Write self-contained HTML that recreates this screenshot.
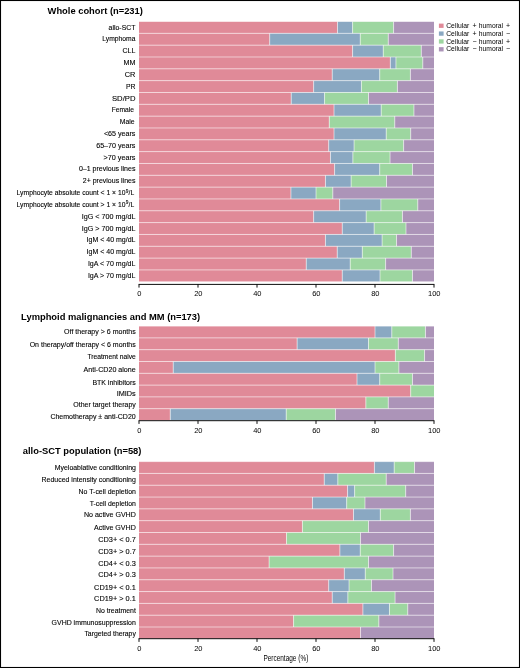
<!DOCTYPE html>
<html><head><meta charset="utf-8"><style>
html,body{margin:0;padding:0;background:#fff;width:520px;height:668px;overflow:hidden}
svg{display:block;will-change:transform}
text{font-family:"Liberation Sans",sans-serif;fill:#000}
.lb{font-size:6.8px;text-anchor:end;stroke:#000;stroke-width:0.1}
.tk{font-size:7.5px;text-anchor:middle}
.tt{font-size:9.35px;font-weight:bold;fill:#000}
.lg{font-size:7px}
.sep{stroke:#fff;stroke-width:0.55}
.ax{stroke:#000;stroke-width:0.95}
</style></head><body>
<svg width="520" height="668" viewBox="0 0 520 668">
<rect x="0" y="0" width="520" height="668" fill="#fff"/>
<text x="47.6" y="14.4" class="tt">Whole cohort (n=231)</text>
<text x="21.1" y="319.9" class="tt">Lymphoid malignancies and MM (n=173)</text>
<text x="22.8" y="454.2" class="tt">allo-SCT population (n=58)</text>
<rect x="139" y="21.5" width="198.53" height="11.83" fill="#e08a98"/>
<rect x="337.53" y="21.5" width="15.05" height="11.83" fill="#8aa8c2"/>
<rect x="352.58" y="21.5" width="41" height="11.83" fill="#9dd6a0"/>
<rect x="393.59" y="21.5" width="40.41" height="11.83" fill="#ac94b8"/>
<text x="135.45" y="29.52" class="lb" textLength="26.85" lengthAdjust="spacingAndGlyphs">allo-SCT</text>
<rect x="139" y="33.33" width="130.69" height="11.83" fill="#e08a98"/>
<rect x="269.69" y="33.33" width="90.56" height="11.83" fill="#8aa8c2"/>
<rect x="360.25" y="33.33" width="28.02" height="11.83" fill="#9dd6a0"/>
<rect x="388.27" y="33.33" width="45.73" height="11.83" fill="#ac94b8"/>
<text x="135.45" y="41.34" class="lb" textLength="33.15" lengthAdjust="spacingAndGlyphs">Lymphoma</text>
<rect x="139" y="45.16" width="213.58" height="11.83" fill="#e08a98"/>
<rect x="352.58" y="45.16" width="30.68" height="11.83" fill="#8aa8c2"/>
<rect x="383.26" y="45.16" width="38.06" height="11.83" fill="#9dd6a0"/>
<rect x="421.31" y="45.16" width="12.69" height="11.83" fill="#ac94b8"/>
<text x="135.45" y="53.17" class="lb" textLength="12.95" lengthAdjust="spacingAndGlyphs">CLL</text>
<rect x="139" y="56.99" width="251.34" height="11.83" fill="#e08a98"/>
<rect x="390.34" y="56.99" width="5.6" height="11.83" fill="#8aa8c2"/>
<rect x="395.94" y="56.99" width="26.85" height="11.83" fill="#9dd6a0"/>
<rect x="422.79" y="56.99" width="11.21" height="11.83" fill="#ac94b8"/>
<text x="135.45" y="65" class="lb" textLength="11.95" lengthAdjust="spacingAndGlyphs">MM</text>
<rect x="139" y="68.82" width="193.23" height="11.83" fill="#e08a98"/>
<rect x="332.23" y="68.82" width="47.5" height="11.83" fill="#8aa8c2"/>
<rect x="379.72" y="68.82" width="30.68" height="11.83" fill="#9dd6a0"/>
<rect x="410.4" y="68.82" width="23.6" height="11.83" fill="#ac94b8"/>
<text x="135.45" y="76.83" class="lb" textLength="10.65" lengthAdjust="spacingAndGlyphs">CR</text>
<rect x="139" y="80.65" width="174.64" height="11.83" fill="#e08a98"/>
<rect x="313.64" y="80.65" width="47.79" height="11.83" fill="#8aa8c2"/>
<rect x="361.43" y="80.65" width="35.99" height="11.83" fill="#9dd6a0"/>
<rect x="397.42" y="80.65" width="36.58" height="11.83" fill="#ac94b8"/>
<text x="135.45" y="88.67" class="lb" textLength="9.55" lengthAdjust="spacingAndGlyphs">PR</text>
<rect x="139" y="92.48" width="152.22" height="11.83" fill="#e08a98"/>
<rect x="291.22" y="92.48" width="33.33" height="11.83" fill="#8aa8c2"/>
<rect x="324.56" y="92.48" width="43.95" height="11.83" fill="#9dd6a0"/>
<rect x="368.51" y="92.48" width="65.49" height="11.83" fill="#ac94b8"/>
<text x="135.45" y="100.5" class="lb" textLength="23.45" lengthAdjust="spacingAndGlyphs">SD/PD</text>
<rect x="139" y="104.31" width="195" height="11.83" fill="#e08a98"/>
<rect x="334" y="104.31" width="47.2" height="11.83" fill="#8aa8c2"/>
<rect x="381.19" y="104.31" width="32.75" height="11.83" fill="#9dd6a0"/>
<rect x="413.94" y="104.31" width="20.06" height="11.83" fill="#ac94b8"/>
<text x="133.95" y="112.33" class="lb" textLength="22.25" lengthAdjust="spacingAndGlyphs">Female</text>
<rect x="139" y="116.14" width="190.27" height="11.83" fill="#e08a98"/>
<rect x="329.27" y="116.14" width="65.49" height="11.83" fill="#9dd6a0"/>
<rect x="394.76" y="116.14" width="39.24" height="11.83" fill="#ac94b8"/>
<text x="134.55" y="124.16" class="lb" textLength="14.85" lengthAdjust="spacingAndGlyphs">Male</text>
<rect x="139" y="127.97" width="195" height="11.83" fill="#e08a98"/>
<rect x="334" y="127.97" width="52.22" height="11.83" fill="#8aa8c2"/>
<rect x="386.21" y="127.97" width="24.48" height="11.83" fill="#9dd6a0"/>
<rect x="410.69" y="127.97" width="23.31" height="11.83" fill="#ac94b8"/>
<text x="135.45" y="135.98" class="lb" textLength="31.55" lengthAdjust="spacingAndGlyphs">&lt;65 years</text>
<rect x="139" y="139.8" width="189.69" height="11.83" fill="#e08a98"/>
<rect x="328.69" y="139.8" width="25.37" height="11.83" fill="#8aa8c2"/>
<rect x="354.06" y="139.8" width="49.56" height="11.83" fill="#9dd6a0"/>
<rect x="403.62" y="139.8" width="30.38" height="11.83" fill="#ac94b8"/>
<text x="135.45" y="147.81" class="lb" textLength="39.25" lengthAdjust="spacingAndGlyphs">65–70 years</text>
<rect x="139" y="151.63" width="191.46" height="11.83" fill="#e08a98"/>
<rect x="330.46" y="151.63" width="22.42" height="11.83" fill="#8aa8c2"/>
<rect x="352.88" y="151.63" width="37.17" height="11.83" fill="#9dd6a0"/>
<rect x="390.04" y="151.63" width="43.96" height="11.83" fill="#ac94b8"/>
<text x="135.45" y="159.64" class="lb" textLength="31.95" lengthAdjust="spacingAndGlyphs">&gt;70 years</text>
<rect x="139" y="163.46" width="195.59" height="11.83" fill="#e08a98"/>
<rect x="334.59" y="163.46" width="45.13" height="11.83" fill="#8aa8c2"/>
<rect x="379.72" y="163.46" width="32.74" height="11.83" fill="#9dd6a0"/>
<rect x="412.46" y="163.46" width="21.54" height="11.83" fill="#ac94b8"/>
<text x="135.45" y="171.47" class="lb" textLength="56.55" lengthAdjust="spacingAndGlyphs">0–1 previous lines</text>
<rect x="139" y="175.29" width="186.44" height="11.83" fill="#e08a98"/>
<rect x="325.44" y="175.29" width="25.67" height="11.83" fill="#8aa8c2"/>
<rect x="351.11" y="175.29" width="35.4" height="11.83" fill="#9dd6a0"/>
<rect x="386.5" y="175.29" width="47.5" height="11.83" fill="#ac94b8"/>
<text x="135.45" y="183.3" class="lb" textLength="52.65" lengthAdjust="spacingAndGlyphs">2+ previous lines</text>
<rect x="139" y="187.12" width="151.93" height="11.83" fill="#e08a98"/>
<rect x="290.93" y="187.12" width="25.07" height="11.83" fill="#8aa8c2"/>
<rect x="316" y="187.12" width="16.81" height="11.83" fill="#9dd6a0"/>
<rect x="332.81" y="187.12" width="101.19" height="11.83" fill="#ac94b8"/>
<text x="134.25" y="195.13" class="lb" textLength="117.65" lengthAdjust="spacingAndGlyphs">Lymphocyte absolute count &lt; 1 × 10<tspan font-size='4.8' dy='-2.5' dx='0.2'>9</tspan><tspan dy='2.5' dx='0.3'>/L</tspan></text>
<rect x="139" y="198.95" width="200.6" height="11.83" fill="#e08a98"/>
<rect x="339.6" y="198.95" width="41.3" height="11.83" fill="#8aa8c2"/>
<rect x="380.9" y="198.95" width="36.88" height="11.83" fill="#9dd6a0"/>
<rect x="417.77" y="198.95" width="16.23" height="11.83" fill="#ac94b8"/>
<text x="134.25" y="206.96" class="lb" textLength="117.65" lengthAdjust="spacingAndGlyphs">Lymphocyte absolute count &gt; 1 × 10<tspan font-size='4.8' dy='-2.5' dx='0.2'>9</tspan><tspan dy='2.5' dx='0.3'>/L</tspan></text>
<rect x="139" y="210.78" width="174.64" height="11.83" fill="#e08a98"/>
<rect x="313.64" y="210.78" width="52.51" height="11.83" fill="#8aa8c2"/>
<rect x="366.15" y="210.78" width="36.29" height="11.83" fill="#9dd6a0"/>
<rect x="402.44" y="210.78" width="31.56" height="11.83" fill="#ac94b8"/>
<text x="135.45" y="218.79" class="lb" textLength="53.75" lengthAdjust="spacingAndGlyphs">IgG &lt; 700 mg/dL</text>
<rect x="139" y="222.61" width="203.25" height="11.83" fill="#e08a98"/>
<rect x="342.25" y="222.61" width="31.86" height="11.83" fill="#8aa8c2"/>
<rect x="374.12" y="222.61" width="31.86" height="11.83" fill="#9dd6a0"/>
<rect x="405.98" y="222.61" width="28.02" height="11.83" fill="#ac94b8"/>
<text x="135.45" y="230.62" class="lb" textLength="53.75" lengthAdjust="spacingAndGlyphs">IgG &gt; 700 mg/dL</text>
<rect x="139" y="234.44" width="186.44" height="11.83" fill="#e08a98"/>
<rect x="325.44" y="234.44" width="56.64" height="11.83" fill="#8aa8c2"/>
<rect x="382.08" y="234.44" width="14.45" height="11.83" fill="#9dd6a0"/>
<rect x="396.54" y="234.44" width="37.46" height="11.83" fill="#ac94b8"/>
<text x="135.45" y="242.45" class="lb" textLength="48.85" lengthAdjust="spacingAndGlyphs">IgM &lt; 40 mg/dL</text>
<rect x="139" y="246.27" width="198.24" height="11.83" fill="#e08a98"/>
<rect x="337.24" y="246.27" width="25.07" height="11.83" fill="#8aa8c2"/>
<rect x="362.31" y="246.27" width="48.97" height="11.83" fill="#9dd6a0"/>
<rect x="411.29" y="246.27" width="22.71" height="11.83" fill="#ac94b8"/>
<text x="135.45" y="254.28" class="lb" textLength="48.85" lengthAdjust="spacingAndGlyphs">IgM &lt; 40 mg/dL</text>
<rect x="139" y="258.1" width="167.26" height="11.83" fill="#e08a98"/>
<rect x="306.26" y="258.1" width="43.96" height="11.83" fill="#8aa8c2"/>
<rect x="350.22" y="258.1" width="35.4" height="11.83" fill="#9dd6a0"/>
<rect x="385.62" y="258.1" width="48.38" height="11.83" fill="#ac94b8"/>
<text x="135.45" y="266.12" class="lb" textLength="47.55" lengthAdjust="spacingAndGlyphs">IgA &lt; 70 mg/dL</text>
<rect x="139" y="269.93" width="203.25" height="11.83" fill="#e08a98"/>
<rect x="342.25" y="269.93" width="37.76" height="11.83" fill="#8aa8c2"/>
<rect x="380.01" y="269.93" width="32.45" height="11.83" fill="#9dd6a0"/>
<rect x="412.46" y="269.93" width="21.54" height="11.83" fill="#ac94b8"/>
<text x="135.45" y="277.95" class="lb" textLength="47.55" lengthAdjust="spacingAndGlyphs">IgA &gt; 70 mg/dL</text>
<line x1="337.53" y1="21.5" x2="337.53" y2="33.33" class="sep"/>
<line x1="352.58" y1="21.5" x2="352.58" y2="33.33" class="sep"/>
<line x1="393.59" y1="21.5" x2="393.59" y2="33.33" class="sep"/>
<line x1="269.69" y1="33.33" x2="269.69" y2="45.16" class="sep"/>
<line x1="360.25" y1="33.33" x2="360.25" y2="45.16" class="sep"/>
<line x1="388.27" y1="33.33" x2="388.27" y2="45.16" class="sep"/>
<line x1="352.58" y1="45.16" x2="352.58" y2="56.99" class="sep"/>
<line x1="383.26" y1="45.16" x2="383.26" y2="56.99" class="sep"/>
<line x1="421.31" y1="45.16" x2="421.31" y2="56.99" class="sep"/>
<line x1="390.34" y1="56.99" x2="390.34" y2="68.82" class="sep"/>
<line x1="395.94" y1="56.99" x2="395.94" y2="68.82" class="sep"/>
<line x1="422.79" y1="56.99" x2="422.79" y2="68.82" class="sep"/>
<line x1="332.23" y1="68.82" x2="332.23" y2="80.65" class="sep"/>
<line x1="379.72" y1="68.82" x2="379.72" y2="80.65" class="sep"/>
<line x1="410.4" y1="68.82" x2="410.4" y2="80.65" class="sep"/>
<line x1="313.64" y1="80.65" x2="313.64" y2="92.48" class="sep"/>
<line x1="361.43" y1="80.65" x2="361.43" y2="92.48" class="sep"/>
<line x1="397.42" y1="80.65" x2="397.42" y2="92.48" class="sep"/>
<line x1="291.22" y1="92.48" x2="291.22" y2="104.31" class="sep"/>
<line x1="324.56" y1="92.48" x2="324.56" y2="104.31" class="sep"/>
<line x1="368.51" y1="92.48" x2="368.51" y2="104.31" class="sep"/>
<line x1="334" y1="104.31" x2="334" y2="116.14" class="sep"/>
<line x1="381.19" y1="104.31" x2="381.19" y2="116.14" class="sep"/>
<line x1="413.94" y1="104.31" x2="413.94" y2="116.14" class="sep"/>
<line x1="329.27" y1="116.14" x2="329.27" y2="127.97" class="sep"/>
<line x1="394.76" y1="116.14" x2="394.76" y2="127.97" class="sep"/>
<line x1="334" y1="127.97" x2="334" y2="139.8" class="sep"/>
<line x1="386.21" y1="127.97" x2="386.21" y2="139.8" class="sep"/>
<line x1="410.69" y1="127.97" x2="410.69" y2="139.8" class="sep"/>
<line x1="328.69" y1="139.8" x2="328.69" y2="151.63" class="sep"/>
<line x1="354.06" y1="139.8" x2="354.06" y2="151.63" class="sep"/>
<line x1="403.62" y1="139.8" x2="403.62" y2="151.63" class="sep"/>
<line x1="330.46" y1="151.63" x2="330.46" y2="163.46" class="sep"/>
<line x1="352.88" y1="151.63" x2="352.88" y2="163.46" class="sep"/>
<line x1="390.04" y1="151.63" x2="390.04" y2="163.46" class="sep"/>
<line x1="334.59" y1="163.46" x2="334.59" y2="175.29" class="sep"/>
<line x1="379.72" y1="163.46" x2="379.72" y2="175.29" class="sep"/>
<line x1="412.46" y1="163.46" x2="412.46" y2="175.29" class="sep"/>
<line x1="325.44" y1="175.29" x2="325.44" y2="187.12" class="sep"/>
<line x1="351.11" y1="175.29" x2="351.11" y2="187.12" class="sep"/>
<line x1="386.5" y1="175.29" x2="386.5" y2="187.12" class="sep"/>
<line x1="290.93" y1="187.12" x2="290.93" y2="198.95" class="sep"/>
<line x1="316" y1="187.12" x2="316" y2="198.95" class="sep"/>
<line x1="332.81" y1="187.12" x2="332.81" y2="198.95" class="sep"/>
<line x1="339.6" y1="198.95" x2="339.6" y2="210.78" class="sep"/>
<line x1="380.9" y1="198.95" x2="380.9" y2="210.78" class="sep"/>
<line x1="417.77" y1="198.95" x2="417.77" y2="210.78" class="sep"/>
<line x1="313.64" y1="210.78" x2="313.64" y2="222.61" class="sep"/>
<line x1="366.15" y1="210.78" x2="366.15" y2="222.61" class="sep"/>
<line x1="402.44" y1="210.78" x2="402.44" y2="222.61" class="sep"/>
<line x1="342.25" y1="222.61" x2="342.25" y2="234.44" class="sep"/>
<line x1="374.12" y1="222.61" x2="374.12" y2="234.44" class="sep"/>
<line x1="405.98" y1="222.61" x2="405.98" y2="234.44" class="sep"/>
<line x1="325.44" y1="234.44" x2="325.44" y2="246.27" class="sep"/>
<line x1="382.08" y1="234.44" x2="382.08" y2="246.27" class="sep"/>
<line x1="396.54" y1="234.44" x2="396.54" y2="246.27" class="sep"/>
<line x1="337.24" y1="246.27" x2="337.24" y2="258.1" class="sep"/>
<line x1="362.31" y1="246.27" x2="362.31" y2="258.1" class="sep"/>
<line x1="411.29" y1="246.27" x2="411.29" y2="258.1" class="sep"/>
<line x1="306.26" y1="258.1" x2="306.26" y2="269.93" class="sep"/>
<line x1="350.22" y1="258.1" x2="350.22" y2="269.93" class="sep"/>
<line x1="385.62" y1="258.1" x2="385.62" y2="269.93" class="sep"/>
<line x1="342.25" y1="269.93" x2="342.25" y2="281.76" class="sep"/>
<line x1="380.01" y1="269.93" x2="380.01" y2="281.76" class="sep"/>
<line x1="412.46" y1="269.93" x2="412.46" y2="281.76" class="sep"/>
<line x1="138.5" y1="21.5" x2="434.5" y2="21.5" class="sep"/>
<line x1="138.5" y1="33.33" x2="434.5" y2="33.33" class="sep"/>
<line x1="138.5" y1="45.16" x2="434.5" y2="45.16" class="sep"/>
<line x1="138.5" y1="56.99" x2="434.5" y2="56.99" class="sep"/>
<line x1="138.5" y1="68.82" x2="434.5" y2="68.82" class="sep"/>
<line x1="138.5" y1="80.65" x2="434.5" y2="80.65" class="sep"/>
<line x1="138.5" y1="92.48" x2="434.5" y2="92.48" class="sep"/>
<line x1="138.5" y1="104.31" x2="434.5" y2="104.31" class="sep"/>
<line x1="138.5" y1="116.14" x2="434.5" y2="116.14" class="sep"/>
<line x1="138.5" y1="127.97" x2="434.5" y2="127.97" class="sep"/>
<line x1="138.5" y1="139.8" x2="434.5" y2="139.8" class="sep"/>
<line x1="138.5" y1="151.63" x2="434.5" y2="151.63" class="sep"/>
<line x1="138.5" y1="163.46" x2="434.5" y2="163.46" class="sep"/>
<line x1="138.5" y1="175.29" x2="434.5" y2="175.29" class="sep"/>
<line x1="138.5" y1="187.12" x2="434.5" y2="187.12" class="sep"/>
<line x1="138.5" y1="198.95" x2="434.5" y2="198.95" class="sep"/>
<line x1="138.5" y1="210.78" x2="434.5" y2="210.78" class="sep"/>
<line x1="138.5" y1="222.61" x2="434.5" y2="222.61" class="sep"/>
<line x1="138.5" y1="234.44" x2="434.5" y2="234.44" class="sep"/>
<line x1="138.5" y1="246.27" x2="434.5" y2="246.27" class="sep"/>
<line x1="138.5" y1="258.1" x2="434.5" y2="258.1" class="sep"/>
<line x1="138.5" y1="269.93" x2="434.5" y2="269.93" class="sep"/>
<line x1="138.5" y1="281.76" x2="434.5" y2="281.76" class="sep"/>
<line x1="138.6" y1="284.4" x2="434.4" y2="284.4" class="ax"/>
<line x1="139" y1="284.4" x2="139" y2="287.6" class="ax"/>
<text x="139.3" y="296.1" class="tk">0</text>
<line x1="198" y1="284.4" x2="198" y2="287.6" class="ax"/>
<text x="198.3" y="296.1" class="tk">20</text>
<line x1="257" y1="284.4" x2="257" y2="287.6" class="ax"/>
<text x="257.3" y="296.1" class="tk">40</text>
<line x1="316" y1="284.4" x2="316" y2="287.6" class="ax"/>
<text x="316.3" y="296.1" class="tk">60</text>
<line x1="375" y1="284.4" x2="375" y2="287.6" class="ax"/>
<text x="375.3" y="296.1" class="tk">80</text>
<line x1="434" y1="284.4" x2="434" y2="287.6" class="ax"/>
<text x="434.3" y="296.1" class="tk">100</text>
<rect x="139" y="326.1" width="236" height="11.8" fill="#e08a98"/>
<rect x="375" y="326.1" width="16.81" height="11.8" fill="#8aa8c2"/>
<rect x="391.81" y="326.1" width="33.63" height="11.8" fill="#9dd6a0"/>
<rect x="425.44" y="326.1" width="8.56" height="11.8" fill="#ac94b8"/>
<text x="135.75" y="333.85" class="lb" textLength="71.65" lengthAdjust="spacingAndGlyphs">Off therapy &gt; 6 months</text>
<rect x="139" y="337.9" width="158.12" height="11.8" fill="#e08a98"/>
<rect x="297.12" y="337.9" width="71.39" height="11.8" fill="#8aa8c2"/>
<rect x="368.51" y="337.9" width="29.8" height="11.8" fill="#9dd6a0"/>
<rect x="398.31" y="337.9" width="35.69" height="11.8" fill="#ac94b8"/>
<text x="135.75" y="346.6" class="lb" textLength="106.05" lengthAdjust="spacingAndGlyphs">On therapy/off therapy &lt; 6 months</text>
<rect x="139" y="349.7" width="256.36" height="11.8" fill="#e08a98"/>
<rect x="395.36" y="349.7" width="29.2" height="11.8" fill="#9dd6a0"/>
<rect x="424.56" y="349.7" width="9.44" height="11.8" fill="#ac94b8"/>
<text x="135.75" y="359.2" class="lb" textLength="48.35" lengthAdjust="spacingAndGlyphs">Treatment naive</text>
<rect x="139" y="361.5" width="34.22" height="11.8" fill="#e08a98"/>
<rect x="173.22" y="361.5" width="201.78" height="11.8" fill="#8aa8c2"/>
<rect x="375" y="361.5" width="23.89" height="11.8" fill="#9dd6a0"/>
<rect x="398.89" y="361.5" width="35.11" height="11.8" fill="#ac94b8"/>
<text x="135.75" y="371.5" class="lb" textLength="52.25" lengthAdjust="spacingAndGlyphs">Anti-CD20 alone</text>
<rect x="139" y="373.3" width="218" height="11.8" fill="#e08a98"/>
<rect x="357" y="373.3" width="22.72" height="11.8" fill="#8aa8c2"/>
<rect x="379.72" y="373.3" width="32.74" height="11.8" fill="#9dd6a0"/>
<rect x="412.46" y="373.3" width="21.54" height="11.8" fill="#ac94b8"/>
<text x="135.75" y="384.5" class="lb" textLength="43.35" lengthAdjust="spacingAndGlyphs">BTK inhibitors</text>
<rect x="139" y="385.1" width="271.69" height="11.8" fill="#e08a98"/>
<rect x="410.69" y="385.1" width="23.31" height="11.8" fill="#9dd6a0"/>
<text x="135.75" y="396.3" class="lb" textLength="19.05" lengthAdjust="spacingAndGlyphs">IMIDs</text>
<rect x="139" y="396.9" width="226.86" height="11.8" fill="#e08a98"/>
<rect x="365.86" y="396.9" width="22.42" height="11.8" fill="#9dd6a0"/>
<rect x="388.27" y="396.9" width="45.73" height="11.8" fill="#ac94b8"/>
<text x="135.75" y="407.2" class="lb" textLength="62.45" lengthAdjust="spacingAndGlyphs">Other target therapy</text>
<rect x="139" y="408.7" width="31.27" height="11.8" fill="#e08a98"/>
<rect x="170.27" y="408.7" width="115.94" height="11.8" fill="#8aa8c2"/>
<rect x="286.21" y="408.7" width="49.26" height="11.8" fill="#9dd6a0"/>
<rect x="335.47" y="408.7" width="98.53" height="11.8" fill="#ac94b8"/>
<text x="135.75" y="419.4" class="lb" textLength="85.35" lengthAdjust="spacingAndGlyphs">Chemotherapy ± anti-CD20</text>
<line x1="375" y1="326.1" x2="375" y2="337.9" class="sep"/>
<line x1="391.81" y1="326.1" x2="391.81" y2="337.9" class="sep"/>
<line x1="425.44" y1="326.1" x2="425.44" y2="337.9" class="sep"/>
<line x1="297.12" y1="337.9" x2="297.12" y2="349.7" class="sep"/>
<line x1="368.51" y1="337.9" x2="368.51" y2="349.7" class="sep"/>
<line x1="398.31" y1="337.9" x2="398.31" y2="349.7" class="sep"/>
<line x1="395.36" y1="349.7" x2="395.36" y2="361.5" class="sep"/>
<line x1="424.56" y1="349.7" x2="424.56" y2="361.5" class="sep"/>
<line x1="173.22" y1="361.5" x2="173.22" y2="373.3" class="sep"/>
<line x1="375" y1="361.5" x2="375" y2="373.3" class="sep"/>
<line x1="398.89" y1="361.5" x2="398.89" y2="373.3" class="sep"/>
<line x1="357" y1="373.3" x2="357" y2="385.1" class="sep"/>
<line x1="379.72" y1="373.3" x2="379.72" y2="385.1" class="sep"/>
<line x1="412.46" y1="373.3" x2="412.46" y2="385.1" class="sep"/>
<line x1="410.69" y1="385.1" x2="410.69" y2="396.9" class="sep"/>
<line x1="365.86" y1="396.9" x2="365.86" y2="408.7" class="sep"/>
<line x1="388.27" y1="396.9" x2="388.27" y2="408.7" class="sep"/>
<line x1="170.27" y1="408.7" x2="170.27" y2="420.5" class="sep"/>
<line x1="286.21" y1="408.7" x2="286.21" y2="420.5" class="sep"/>
<line x1="335.47" y1="408.7" x2="335.47" y2="420.5" class="sep"/>
<line x1="138.5" y1="326.1" x2="434.5" y2="326.1" class="sep"/>
<line x1="138.5" y1="337.9" x2="434.5" y2="337.9" class="sep"/>
<line x1="138.5" y1="349.7" x2="434.5" y2="349.7" class="sep"/>
<line x1="138.5" y1="361.5" x2="434.5" y2="361.5" class="sep"/>
<line x1="138.5" y1="373.3" x2="434.5" y2="373.3" class="sep"/>
<line x1="138.5" y1="385.1" x2="434.5" y2="385.1" class="sep"/>
<line x1="138.5" y1="396.9" x2="434.5" y2="396.9" class="sep"/>
<line x1="138.5" y1="408.7" x2="434.5" y2="408.7" class="sep"/>
<line x1="138.5" y1="420.5" x2="434.5" y2="420.5" class="sep"/>
<line x1="138.6" y1="420.7" x2="434.4" y2="420.7" class="ax"/>
<line x1="139" y1="420.7" x2="139" y2="423.9" class="ax"/>
<text x="139.3" y="432.8" class="tk">0</text>
<line x1="198" y1="420.7" x2="198" y2="423.9" class="ax"/>
<text x="198.3" y="432.8" class="tk">20</text>
<line x1="257" y1="420.7" x2="257" y2="423.9" class="ax"/>
<text x="257.3" y="432.8" class="tk">40</text>
<line x1="316" y1="420.7" x2="316" y2="423.9" class="ax"/>
<text x="316.3" y="432.8" class="tk">60</text>
<line x1="375" y1="420.7" x2="375" y2="423.9" class="ax"/>
<text x="375.3" y="432.8" class="tk">80</text>
<line x1="434" y1="420.7" x2="434" y2="423.9" class="ax"/>
<text x="434.3" y="432.8" class="tk">100</text>
<rect x="139" y="461.6" width="235.41" height="11.81" fill="#e08a98"/>
<rect x="374.41" y="461.6" width="19.77" height="11.81" fill="#8aa8c2"/>
<rect x="394.18" y="461.6" width="20.35" height="11.81" fill="#9dd6a0"/>
<rect x="414.53" y="461.6" width="19.47" height="11.81" fill="#ac94b8"/>
<text x="135.85" y="469.9" class="lb" textLength="81.05" lengthAdjust="spacingAndGlyphs">Myeloablative conditioning</text>
<rect x="139" y="473.42" width="185.26" height="11.81" fill="#e08a98"/>
<rect x="324.26" y="473.42" width="13.57" height="11.81" fill="#8aa8c2"/>
<rect x="337.83" y="473.42" width="48.38" height="11.81" fill="#9dd6a0"/>
<rect x="386.21" y="473.42" width="47.79" height="11.81" fill="#ac94b8"/>
<text x="135.85" y="482.1" class="lb" textLength="94.25" lengthAdjust="spacingAndGlyphs">Reduced intensity conditioning</text>
<rect x="139" y="485.23" width="208.56" height="11.81" fill="#e08a98"/>
<rect x="347.56" y="485.23" width="7.08" height="11.81" fill="#8aa8c2"/>
<rect x="354.64" y="485.23" width="51.04" height="11.81" fill="#9dd6a0"/>
<rect x="405.68" y="485.23" width="28.32" height="11.81" fill="#ac94b8"/>
<text x="135.85" y="493.5" class="lb" textLength="57.25" lengthAdjust="spacingAndGlyphs">No T-cell depletion</text>
<rect x="139" y="497.05" width="173.46" height="11.81" fill="#e08a98"/>
<rect x="312.46" y="497.05" width="34.22" height="11.81" fill="#8aa8c2"/>
<rect x="346.68" y="497.05" width="18.29" height="11.81" fill="#9dd6a0"/>
<rect x="364.97" y="497.05" width="69.03" height="11.81" fill="#ac94b8"/>
<text x="135.85" y="505.6" class="lb" textLength="46.15" lengthAdjust="spacingAndGlyphs">T-cell depletion</text>
<rect x="139" y="508.86" width="214.47" height="11.81" fill="#e08a98"/>
<rect x="353.47" y="508.86" width="26.84" height="11.81" fill="#8aa8c2"/>
<rect x="380.31" y="508.86" width="30.09" height="11.81" fill="#9dd6a0"/>
<rect x="410.4" y="508.86" width="23.6" height="11.81" fill="#ac94b8"/>
<text x="135.85" y="517.3" class="lb" textLength="51.95" lengthAdjust="spacingAndGlyphs">No active GVHD</text>
<rect x="139" y="520.68" width="163.43" height="11.81" fill="#e08a98"/>
<rect x="302.43" y="520.68" width="66.08" height="11.81" fill="#9dd6a0"/>
<rect x="368.51" y="520.68" width="65.49" height="11.81" fill="#ac94b8"/>
<text x="135.85" y="529.7" class="lb" textLength="41.75" lengthAdjust="spacingAndGlyphs">Active GVHD</text>
<rect x="139" y="532.49" width="147.5" height="11.81" fill="#e08a98"/>
<rect x="286.5" y="532.49" width="74.04" height="11.81" fill="#9dd6a0"/>
<rect x="360.54" y="532.49" width="73.46" height="11.81" fill="#ac94b8"/>
<text x="135.85" y="542.4" class="lb" textLength="37.65" lengthAdjust="spacingAndGlyphs">CD3+ &lt; 0.7</text>
<rect x="139" y="544.31" width="200.89" height="11.81" fill="#e08a98"/>
<rect x="339.89" y="544.31" width="20.36" height="11.81" fill="#8aa8c2"/>
<rect x="360.25" y="544.31" width="33.34" height="11.81" fill="#9dd6a0"/>
<rect x="393.59" y="544.31" width="40.41" height="11.81" fill="#ac94b8"/>
<text x="135.85" y="554" class="lb" textLength="37.65" lengthAdjust="spacingAndGlyphs">CD3+ &gt; 0.7</text>
<rect x="139" y="556.12" width="130.1" height="11.81" fill="#e08a98"/>
<rect x="269.1" y="556.12" width="99.41" height="11.81" fill="#9dd6a0"/>
<rect x="368.51" y="556.12" width="65.49" height="11.81" fill="#ac94b8"/>
<text x="135.85" y="565.8" class="lb" textLength="37.65" lengthAdjust="spacingAndGlyphs">CD4+ &lt; 0.3</text>
<rect x="139" y="567.94" width="205.32" height="11.81" fill="#e08a98"/>
<rect x="344.32" y="567.94" width="20.94" height="11.81" fill="#8aa8c2"/>
<rect x="365.26" y="567.94" width="27.73" height="11.81" fill="#9dd6a0"/>
<rect x="393" y="567.94" width="41" height="11.81" fill="#ac94b8"/>
<text x="135.85" y="577.3" class="lb" textLength="37.65" lengthAdjust="spacingAndGlyphs">CD4+ &gt; 0.3</text>
<rect x="139" y="579.75" width="189.69" height="11.81" fill="#e08a98"/>
<rect x="328.69" y="579.75" width="20.35" height="11.81" fill="#8aa8c2"/>
<rect x="349.04" y="579.75" width="22.42" height="11.81" fill="#9dd6a0"/>
<rect x="371.46" y="579.75" width="62.54" height="11.81" fill="#ac94b8"/>
<text x="135.85" y="589.5" class="lb" textLength="41.75" lengthAdjust="spacingAndGlyphs">CD19+ &lt; 0.1</text>
<rect x="139" y="591.57" width="193.23" height="11.81" fill="#e08a98"/>
<rect x="332.23" y="591.57" width="15.63" height="11.81" fill="#8aa8c2"/>
<rect x="347.86" y="591.57" width="47.2" height="11.81" fill="#9dd6a0"/>
<rect x="395.06" y="591.57" width="38.94" height="11.81" fill="#ac94b8"/>
<text x="135.85" y="601.2" class="lb" textLength="41.75" lengthAdjust="spacingAndGlyphs">CD19+ &gt; 0.1</text>
<rect x="139" y="603.38" width="223.9" height="11.81" fill="#e08a98"/>
<rect x="362.9" y="603.38" width="26.55" height="11.81" fill="#8aa8c2"/>
<rect x="389.46" y="603.38" width="18.29" height="11.81" fill="#9dd6a0"/>
<rect x="407.75" y="603.38" width="26.25" height="11.81" fill="#ac94b8"/>
<text x="135.85" y="613.1" class="lb" textLength="39.95" lengthAdjust="spacingAndGlyphs">No treatment</text>
<rect x="139" y="615.2" width="154.58" height="11.81" fill="#e08a98"/>
<rect x="293.58" y="615.2" width="85.25" height="11.81" fill="#9dd6a0"/>
<rect x="378.84" y="615.2" width="55.16" height="11.81" fill="#ac94b8"/>
<text x="135.85" y="624.7" class="lb" textLength="84.25" lengthAdjust="spacingAndGlyphs">GVHD immunosuppression</text>
<rect x="139" y="627.01" width="221.54" height="11.81" fill="#e08a98"/>
<rect x="360.54" y="627.01" width="73.46" height="11.81" fill="#ac94b8"/>
<text x="135.85" y="636.4" class="lb" textLength="51.45" lengthAdjust="spacingAndGlyphs">Targeted therapy</text>
<line x1="374.41" y1="461.6" x2="374.41" y2="473.42" class="sep"/>
<line x1="394.18" y1="461.6" x2="394.18" y2="473.42" class="sep"/>
<line x1="414.53" y1="461.6" x2="414.53" y2="473.42" class="sep"/>
<line x1="324.26" y1="473.42" x2="324.26" y2="485.23" class="sep"/>
<line x1="337.83" y1="473.42" x2="337.83" y2="485.23" class="sep"/>
<line x1="386.21" y1="473.42" x2="386.21" y2="485.23" class="sep"/>
<line x1="347.56" y1="485.23" x2="347.56" y2="497.05" class="sep"/>
<line x1="354.64" y1="485.23" x2="354.64" y2="497.05" class="sep"/>
<line x1="405.68" y1="485.23" x2="405.68" y2="497.05" class="sep"/>
<line x1="312.46" y1="497.05" x2="312.46" y2="508.86" class="sep"/>
<line x1="346.68" y1="497.05" x2="346.68" y2="508.86" class="sep"/>
<line x1="364.97" y1="497.05" x2="364.97" y2="508.86" class="sep"/>
<line x1="353.47" y1="508.86" x2="353.47" y2="520.68" class="sep"/>
<line x1="380.31" y1="508.86" x2="380.31" y2="520.68" class="sep"/>
<line x1="410.4" y1="508.86" x2="410.4" y2="520.68" class="sep"/>
<line x1="302.43" y1="520.68" x2="302.43" y2="532.49" class="sep"/>
<line x1="368.51" y1="520.68" x2="368.51" y2="532.49" class="sep"/>
<line x1="286.5" y1="532.49" x2="286.5" y2="544.31" class="sep"/>
<line x1="360.54" y1="532.49" x2="360.54" y2="544.31" class="sep"/>
<line x1="339.89" y1="544.31" x2="339.89" y2="556.12" class="sep"/>
<line x1="360.25" y1="544.31" x2="360.25" y2="556.12" class="sep"/>
<line x1="393.59" y1="544.31" x2="393.59" y2="556.12" class="sep"/>
<line x1="269.1" y1="556.12" x2="269.1" y2="567.94" class="sep"/>
<line x1="368.51" y1="556.12" x2="368.51" y2="567.94" class="sep"/>
<line x1="344.32" y1="567.94" x2="344.32" y2="579.75" class="sep"/>
<line x1="365.26" y1="567.94" x2="365.26" y2="579.75" class="sep"/>
<line x1="393" y1="567.94" x2="393" y2="579.75" class="sep"/>
<line x1="328.69" y1="579.75" x2="328.69" y2="591.57" class="sep"/>
<line x1="349.04" y1="579.75" x2="349.04" y2="591.57" class="sep"/>
<line x1="371.46" y1="579.75" x2="371.46" y2="591.57" class="sep"/>
<line x1="332.23" y1="591.57" x2="332.23" y2="603.38" class="sep"/>
<line x1="347.86" y1="591.57" x2="347.86" y2="603.38" class="sep"/>
<line x1="395.06" y1="591.57" x2="395.06" y2="603.38" class="sep"/>
<line x1="362.9" y1="603.38" x2="362.9" y2="615.2" class="sep"/>
<line x1="389.46" y1="603.38" x2="389.46" y2="615.2" class="sep"/>
<line x1="407.75" y1="603.38" x2="407.75" y2="615.2" class="sep"/>
<line x1="293.58" y1="615.2" x2="293.58" y2="627.01" class="sep"/>
<line x1="378.84" y1="615.2" x2="378.84" y2="627.01" class="sep"/>
<line x1="360.54" y1="627.01" x2="360.54" y2="638.83" class="sep"/>
<line x1="138.5" y1="461.6" x2="434.5" y2="461.6" class="sep"/>
<line x1="138.5" y1="473.42" x2="434.5" y2="473.42" class="sep"/>
<line x1="138.5" y1="485.23" x2="434.5" y2="485.23" class="sep"/>
<line x1="138.5" y1="497.05" x2="434.5" y2="497.05" class="sep"/>
<line x1="138.5" y1="508.86" x2="434.5" y2="508.86" class="sep"/>
<line x1="138.5" y1="520.68" x2="434.5" y2="520.68" class="sep"/>
<line x1="138.5" y1="532.49" x2="434.5" y2="532.49" class="sep"/>
<line x1="138.5" y1="544.31" x2="434.5" y2="544.31" class="sep"/>
<line x1="138.5" y1="556.12" x2="434.5" y2="556.12" class="sep"/>
<line x1="138.5" y1="567.94" x2="434.5" y2="567.94" class="sep"/>
<line x1="138.5" y1="579.75" x2="434.5" y2="579.75" class="sep"/>
<line x1="138.5" y1="591.57" x2="434.5" y2="591.57" class="sep"/>
<line x1="138.5" y1="603.38" x2="434.5" y2="603.38" class="sep"/>
<line x1="138.5" y1="615.2" x2="434.5" y2="615.2" class="sep"/>
<line x1="138.5" y1="627.01" x2="434.5" y2="627.01" class="sep"/>
<line x1="138.5" y1="638.83" x2="434.5" y2="638.83" class="sep"/>
<line x1="138.6" y1="638.7" x2="434.4" y2="638.7" class="ax"/>
<line x1="139" y1="638.7" x2="139" y2="641.9" class="ax"/>
<text x="139.3" y="650.8" class="tk">0</text>
<line x1="198" y1="638.7" x2="198" y2="641.9" class="ax"/>
<text x="198.3" y="650.8" class="tk">20</text>
<line x1="257" y1="638.7" x2="257" y2="641.9" class="ax"/>
<text x="257.3" y="650.8" class="tk">40</text>
<line x1="316" y1="638.7" x2="316" y2="641.9" class="ax"/>
<text x="316.3" y="650.8" class="tk">60</text>
<line x1="375" y1="638.7" x2="375" y2="641.9" class="ax"/>
<text x="375.3" y="650.8" class="tk">80</text>
<line x1="434" y1="638.7" x2="434" y2="641.9" class="ax"/>
<text x="434.3" y="650.8" class="tk">100</text>
<rect x="438.9" y="23.6" width="4.7" height="4.3" fill="#e08a98"/>
<text x="446.2" y="27.8" class="lg" textLength="23.1" lengthAdjust="spacingAndGlyphs">Cellular</text>
<text x="474.6" y="27.8" class="lg" text-anchor="middle">+</text>
<text x="478.8" y="27.8" class="lg" textLength="24.3" lengthAdjust="spacingAndGlyphs">humoral</text>
<text x="508" y="27.8" class="lg" text-anchor="middle">+</text>
<rect x="438.9" y="31.45" width="4.7" height="4.3" fill="#8aa8c2"/>
<text x="446.2" y="35.67" class="lg" textLength="23.1" lengthAdjust="spacingAndGlyphs">Cellular</text>
<text x="474.6" y="35.67" class="lg" text-anchor="middle">+</text>
<text x="478.8" y="35.67" class="lg" textLength="24.3" lengthAdjust="spacingAndGlyphs">humoral</text>
<text x="508" y="35.67" class="lg" text-anchor="middle">−</text>
<rect x="438.9" y="39.3" width="4.7" height="4.3" fill="#9dd6a0"/>
<text x="446.2" y="43.54" class="lg" textLength="23.1" lengthAdjust="spacingAndGlyphs">Cellular</text>
<text x="474.6" y="43.54" class="lg" text-anchor="middle">−</text>
<text x="478.8" y="43.54" class="lg" textLength="24.3" lengthAdjust="spacingAndGlyphs">humoral</text>
<text x="508" y="43.54" class="lg" text-anchor="middle">+</text>
<rect x="438.9" y="47.15" width="4.7" height="4.3" fill="#ac94b8"/>
<text x="446.2" y="51.41" class="lg" textLength="23.1" lengthAdjust="spacingAndGlyphs">Cellular</text>
<text x="474.6" y="51.41" class="lg" text-anchor="middle">−</text>
<text x="478.8" y="51.41" class="lg" textLength="24.3" lengthAdjust="spacingAndGlyphs">humoral</text>
<text x="508" y="51.41" class="lg" text-anchor="middle">−</text>
<text x="263.4" y="660.9" style="font-size:8.6px" textLength="44.9" lengthAdjust="spacingAndGlyphs">Percentage (%)</text>
<rect x="0.5" y="0.5" width="519" height="667" fill="none" stroke="#000" stroke-width="1.1"/>
</svg>
</body></html>
